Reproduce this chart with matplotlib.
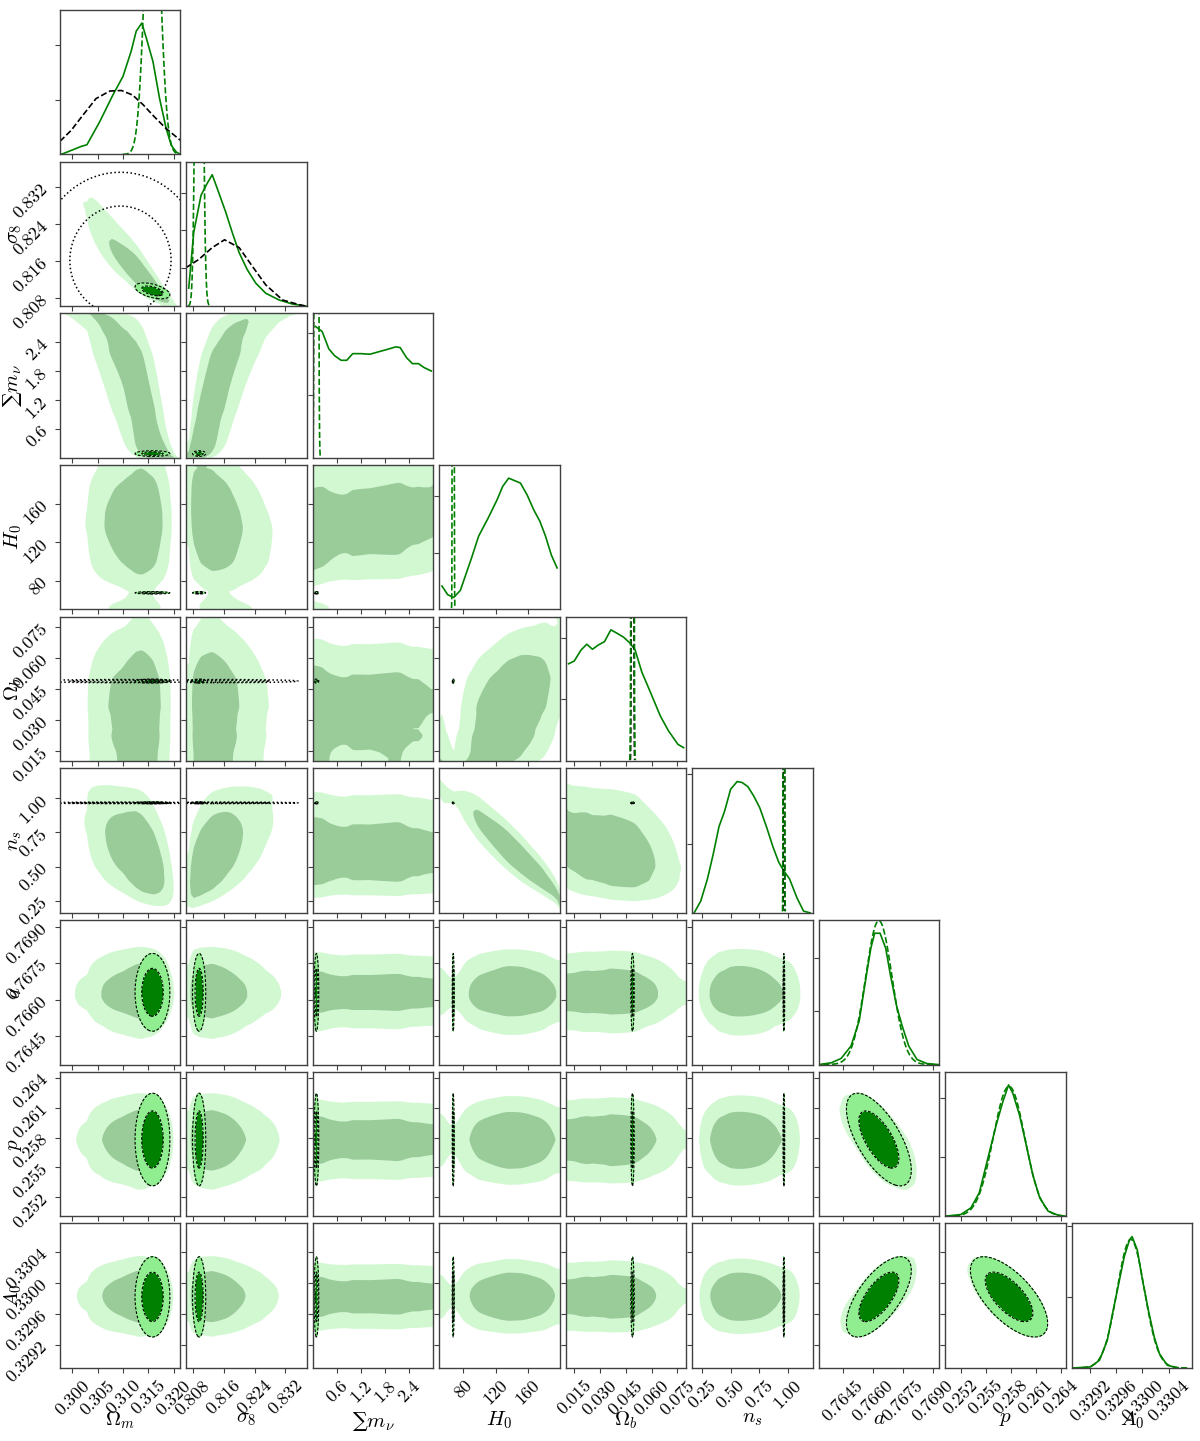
import numpy as np
import matplotlib
matplotlib.use('Agg')
import matplotlib.pyplot as plt
from math import erf, sqrt, log

plt.rcParams['font.family'] = ['cmr10', 'DejaVu Serif']
plt.rcParams['mathtext.fontset'] = 'cm'
plt.rcParams['axes.formatter.use_mathtext'] = True

# ---------------- parameters, axis ranges and ticks
names = [r'$\Omega_m$', r'$\sigma_8$', '\u2211' + r'$m_\nu$', r'$H_0$', r'$\Omega_b$',
         r'$n_s$', r'$a$', r'$p$', r'$A_0$']
ranges = [(0.2976, 0.3213), (0.8063, 0.8376), (0.0, 3.0), (50.0, 200.0), (0.0101, 0.0801),
          (0.16, 1.22), (0.7633, 0.7693), (0.2501, 0.2646), (0.32891, 0.33076)]
ticks = [[0.300, 0.305, 0.310, 0.315, 0.320], [0.808, 0.816, 0.824, 0.832],
         [0.6, 1.2, 1.8, 2.4], [80, 120, 160], [0.015, 0.030, 0.045, 0.060, 0.075],
         [0.25, 0.50, 0.75, 1.00], [0.7645, 0.7660, 0.7675, 0.7690],
         [0.252, 0.255, 0.258, 0.261, 0.264], [0.3292, 0.3296, 0.3300, 0.3304]]
tick_labels = [['0.300', '0.305', '0.310', '0.315', '0.320'], ['0.808', '0.816', '0.824', '0.832'],
               ['0.6', '1.2', '1.8', '2.4'], ['80', '120', '160'],
               ['0.015', '0.030', '0.045', '0.060', '0.075'], ['0.25', '0.50', '0.75', '1.00'],
               ['0.7645', '0.7660', '0.7675', '0.7690'], ['0.252', '0.255', '0.258', '0.261', '0.264'],
               ['0.3292', '0.3296', '0.3300', '0.3304']]

# ---------------- chain 1 (solid green, pale filled contours): 1D curves
om_x1 = [0.2976, 0.2982, 0.3018, 0.3029, 0.3054, 0.3080, 0.3100, 0.3116, 0.3126, 0.3137,
         0.3146, 0.3159, 0.3172, 0.3185, 0.3195, 0.3205, 0.3213]
om_y1 = [0.0, 0.005, 0.056, 0.067, 0.226, 0.412, 0.542, 0.716, 0.856, 0.912,
         0.807, 0.644, 0.388, 0.179, 0.063, 0.016, 0.0]
s8_x1 = [0.8069, 0.8082, 0.8101, 0.8117, 0.8130, 0.8143, 0.8165, 0.8182, 0.8200, 0.8221,
         0.8243, 0.8269, 0.8304, 0.8339, 0.8374]
s8_y1 = [0.124, 0.51, 0.766, 0.848, 0.907, 0.813, 0.65, 0.509, 0.369, 0.252,
         0.159, 0.089, 0.042, 0.014, 0.0]
mnu_x1 = [0.066, 0.231, 0.397, 0.537, 0.702, 0.843, 0.992, 1.198, 1.421, 1.653,
          1.860, 2.066, 2.174, 2.331, 2.479, 2.628, 2.769, 2.950]
mnu_y1 = [0.908, 0.873, 0.753, 0.707, 0.674, 0.674, 0.72, 0.72, 0.716, 0.734,
          0.75, 0.767, 0.762, 0.693, 0.651, 0.651, 0.624, 0.60]
h0_x1 = [53.3, 60.4, 67.9, 76.2, 89.9, 99.0, 110.7, 121.9, 128.9, 136.4,
         151.0, 159.3, 167.6, 175.1, 182.1, 189.6, 196.7]
h0_y1 = [0.162, 0.102, 0.083, 0.132, 0.352, 0.507, 0.630, 0.757, 0.850, 0.907,
         0.873, 0.792, 0.688, 0.611, 0.509, 0.375, 0.287]
ob_x1 = [0.0117, 0.0150, 0.0190, 0.0223, 0.0256, 0.0291, 0.0326, 0.0363, 0.0398, 0.0437,
         0.0475, 0.0504, 0.0543, 0.0597, 0.0650, 0.0698, 0.0753, 0.0786]
ob_y1 = [0.677, 0.696, 0.773, 0.813, 0.778, 0.808, 0.831, 0.913, 0.89, 0.862,
         0.82, 0.773, 0.62, 0.468, 0.316, 0.211, 0.117, 0.094]
ns_x1 = [0.177, 0.235, 0.294, 0.346, 0.396, 0.445, 0.498, 0.556, 0.600, 0.650,
         0.702, 0.755, 0.813, 0.871, 0.921, 0.965, 1.017, 1.081, 1.140, 1.198]
ns_y1 = [0.0, 0.081, 0.233, 0.407, 0.593, 0.698, 0.849, 0.902, 0.895, 0.867,
         0.802, 0.721, 0.593, 0.453, 0.349, 0.29, 0.233, 0.105, 0.012, 0.0]
a_x1 = [0.7633, 0.76393, 0.76442, 0.76491, 0.76532, 0.76565, 0.7659, 0.76609, 0.76636,
        0.76664, 0.76688, 0.76718, 0.76746, 0.76779, 0.7682, 0.76869, 0.76926]
a_y1 = [0.0, 0.012, 0.042, 0.127, 0.30, 0.59, 0.80, 0.903, 0.903,
        0.80, 0.613, 0.405, 0.266, 0.127, 0.035, 0.007, 0.0]
p_x1 = [0.25006, 0.2520, 0.25321, 0.25422, 0.25523, 0.25624, 0.25705, 0.25774,
        0.25826, 0.25907, 0.25988, 0.26069, 0.26149, 0.26251, 0.26372, 0.26469]
p_y1 = [0.0, 0.012, 0.058, 0.162, 0.394, 0.625, 0.787, 0.903,
        0.845, 0.694, 0.486, 0.278, 0.127, 0.035, 0.007, 0.0]
A0_x1 = [0.32894, 0.3292, 0.32934, 0.32946, 0.32954, 0.32963, 0.32972, 0.3298,
         0.32984, 0.32992, 0.33, 0.33009, 0.33018, 0.33026, 0.33038, 0.33055]
A0_y1 = [0.0, 0.007, 0.054, 0.194, 0.381, 0.579, 0.778, 0.895,
         0.918, 0.825, 0.614, 0.404, 0.217, 0.1, 0.019, 0.0]
curves1 = [(om_x1, om_y1), (s8_x1, s8_y1), (mnu_x1, mnu_y1), (h0_x1, h0_y1), (ob_x1, ob_y1),
           (ns_x1, ns_y1), (a_x1, a_y1), (p_x1, p_y1), (A0_x1, A0_y1)]
# correlations of chain 1 (pairs not listed are ~0)
rho1 = {(0, 1): -0.92, (0, 2): -0.72, (1, 2): 0.76, (1, 3): -0.2, (2, 3): 0.1,
        (3, 4): 0.35, (0, 5): -0.45, (1, 5): 0.5, (3, 5): -0.92, (4, 5): -0.22,
        (6, 7): -0.66, (6, 8): 0.66, (7, 8): -0.66}

# ---------------- chain 2 (dashed green, dark filled contours)
mean2 = [0.3158, 0.8096, 0.088, 67.3, 0.0489, 0.967, 0.7663, 0.2578, 0.32982]
sigma2 = [0.0014, 0.0007, 0.024, 0.5, 0.0004, 0.003, 0.00066, 0.0019, 0.00021]
rho2 = {(0, 1): -0.5, (6, 7): -0.66, (6, 8): 0.66, (7, 8): -0.66}

# ---------------- chain 3 (black dashed / dotted), only four parameters
idx3 = [0, 1, 4, 5]
mean3 = [0.3095, 0.8162, 0.0489, 0.967]
sigma3 = [0.0066, 0.0078, 0.0003, 0.002]
om_x3 = [0.2976, 0.2998, 0.3021, 0.3047, 0.3074, 0.3097, 0.3119, 0.3139, 0.3162, 0.3185, 0.3213]
om_y3 = [0.091, 0.167, 0.272, 0.388, 0.44, 0.444, 0.412, 0.347, 0.26, 0.179, 0.098]
s8_x3 = [0.8061, 0.8095, 0.8130, 0.8162, 0.8200, 0.8234, 0.8269, 0.8313, 0.8357, 0.8374]
s8_y3 = [0.264, 0.322, 0.404, 0.458, 0.404, 0.276, 0.147, 0.042, 0.009, 0.0]
curves3 = {0: (om_x3, om_y3), 1: (s8_x3, s8_y3)}

# tick spacing of the diagonal y axes, as a fraction of the panel height
diag_tick_step = [0.38, 0.262, 0.433, 0.393, 0.428, 0.48, 0.37, 0.41, 0.49]

Q68 = -2 * log(1 - 0.68)
Q95 = -2 * log(1 - 0.95)
NG = 50

ZZ = np.linspace(-6, 6, 4001)
CC = 0.5 * (1 + np.array([erf(v / sqrt(2)) for v in ZZ]))


def gauss(x, m, s):
    return np.exp(-0.5 * ((x - m) / s) ** 2) / (s * sqrt(2 * np.pi))


def mass_levels(d):
    flat = np.sort(d.ravel())[::-1]
    cum = np.cumsum(flat)
    cum /= cum[-1]
    return flat[np.searchsorted(cum, 0.95)], flat[np.searchsorted(cum, 0.68)]


def gauss_contours(ax, mx, my, sx, sy, r, filled, ls, lw):
    xs = np.linspace(mx - 4.5 * sx, mx + 4.5 * sx, 160)
    ys = np.linspace(my - 4.5 * sy, my + 4.5 * sy, 160)
    X, Y = np.meshgrid(xs, ys)
    u = (X - mx) / sx
    v = (Y - my) / sy
    q = (u * u - 2 * r * u * v + v * v) / (1 - r * r)
    if filled:
        ax.contourf(X, Y, q, levels=[0, Q68, Q95], colors=['green', 'lightgreen'])
    ax.contour(X, Y, q, levels=[Q68, Q95], colors='k', linestyles=[ls], linewidths=lw)


def gauss_line(ax, lo, hi, m, s, scale, color):
    xs = np.linspace(max(lo, m - 4.2 * s), min(hi, m + 4.2 * s), 800)
    ax.plot(xs, scale * gauss(xs, m, s), color=color, ls='--', lw=1.2)


# normal scores of chain 1 marginals on the contour grid
grids = []
for k in range(9):
    g = np.linspace(ranges[k][0], ranges[k][1], NG)
    f = np.interp(g, curves1[k][0], curves1[k][1])
    c = (np.cumsum(f) - 0.5 * f) / f.sum()
    z = np.interp(np.clip(c, 1e-8, 1 - 1e-8), CC, ZZ)
    grids.append((g, f, z))

fig, axes = plt.subplots(9, 9, figsize=(12, 14.41))
fig.subplots_adjust(left=0.05, right=0.9933, bottom=0.0507, top=0.9931,
                    wspace=0.05, hspace=0.05)

for i in range(9):
    for j in range(9):
        ax = axes[i, j]
        if j > i:
            ax.set_visible(False)
            continue
        if i == j:
            lo, hi = ranges[i]
            x1, y1 = curves1[i]
            norm1 = np.trapezoid(y1, x1)
            ax.plot(x1, y1, color='g', lw=1.2)
            if i in curves3:
                ax.plot(curves3[i][0], curves3[i][1], color='k', ls='--', lw=1.2)
            elif i in idx3:
                n = idx3.index(i)
                gauss_line(ax, lo, hi, mean3[n], sigma3[n], norm1, 'k')
            gauss_line(ax, lo, hi, mean2[i], sigma2[i], norm1, 'g')
            top = 1.1 * max(y1)
            ax.set_ylim(0, top)
            step = diag_tick_step[i] * top
            ax.set_yticks(np.arange(step, top * 0.999, step))
            ax.set_yticklabels([])
        else:
            gx, fx, zx = grids[j]
            gy, fy, zy = grids[i]
            r = rho1.get((j, i), 0.0)
            ZX, ZY = np.meshgrid(zx, zy)
            cop = np.exp(-(r * r * (ZX ** 2 + ZY ** 2) - 2 * r * ZX * ZY) / (2 * (1 - r * r)))
            dens = np.outer(fy, fx) * cop / np.sqrt(1 - r * r)
            l95, l68 = mass_levels(dens)
            ax.contourf(gx, gy, dens, levels=[l95, l68, dens.max() * 1.001],
                        colors=['lightgreen', 'green'], alpha=0.4, antialiased=True)
            if i in idx3 and j in idx3:
                a_, b_ = idx3.index(j), idx3.index(i)
                gauss_contours(ax, mean3[a_], mean3[b_], sigma3[a_], sigma3[b_], 0.0,
                               False, ':', 1.1)
            gauss_contours(ax, mean2[j], mean2[i], sigma2[j], sigma2[i],
                           rho2.get((j, i), 0.0), True, (0, (2.5, 1.5)), 0.8)
            ax.set_ylim(ranges[i])
            ax.set_yticks(ticks[i])
            if j == 0:
                ax.set_yticklabels(tick_labels[i], rotation=45, fontsize=13)
                ax.set_ylabel(names[i], fontsize=15,
                              fontfamily='DejaVu Serif' if i == 2 else None)
                ax.yaxis.set_label_coords(-0.3, 0.5)
            else:
                ax.set_yticklabels([])
        ax.set_xlim(ranges[j])
        ax.set_xticks(ticks[j])
        if i == 8:
            ax.set_xticklabels(tick_labels[j], rotation=45, fontsize=13)
            ax.set_xlabel(names[j], fontsize=15,
                          fontfamily='DejaVu Serif' if j == 2 else None)
            ax.xaxis.set_label_coords(0.5, -0.29)
        else:
            ax.set_xticklabels([])
        for s in ax.spines.values():
            s.set_color('0.25')
            s.set_linewidth(1.0)
        ax.tick_params(color='0.25', length=3.5, width=0.8)

fig.savefig('out.png', dpi=100)
